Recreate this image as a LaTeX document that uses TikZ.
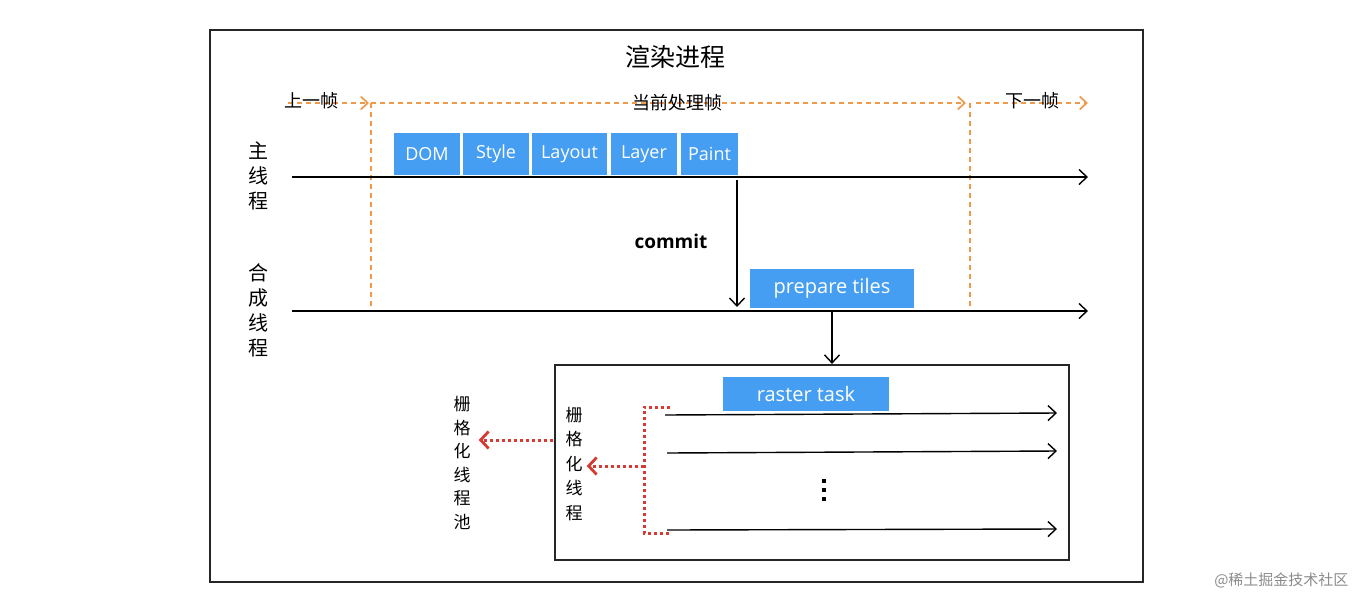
\documentclass[tikz,border=0pt]{standalone}
\usepackage{fontspec}
\newfontfamily\cjk{Noto Sans CJK SC}
\setsansfont{Open Sans}
\usetikzlibrary{arrows.meta}
\definecolor{bluebox}{HTML}{469EF2}
\definecolor{orng}{HTML}{EF9A4A}
\definecolor{redd}{HTML}{D63A32}
\begin{document}
\begin{tikzpicture}[x=1pt,y=-1pt,
  blk/.style={fill=bluebox,text=white,inner sep=0pt,font=\sffamily\fontsize{18}{18}\selectfont},
  axis/.style={line width=1.4pt,-{Straight Barb[length=8pt,width=15pt,line width=1.4pt]}},
  frame/.style={orng,line width=1.7pt,dash pattern=on 5pt off 4pt},
  framearr/.style={frame,-{Straight Barb[length=7pt,width=13pt,line width=1.7pt]}},
  reddot/.style={redd,line width=3pt,dash pattern=on 3pt off 3pt},
  redarr/.style={reddot,-{Straight Barb[length=8pt,width=17pt,line width=2.8pt]}},
  vlab/.style={align=center,inner sep=0pt,font=\cjk\fontsize{20}{25}\selectfont},
  flab/.style={inner sep=0pt,font=\cjk\fontsize{18}{18}\selectfont}]
\useasboundingbox (0,0) rectangle (1358,598);
\fill[white] (0,0) rectangle (1358,598);
% outer frame
\draw[line width=2.2pt,black!85] (210,30) rectangle (1143,582);
\node[font=\cjk\fontsize{25}{25}\selectfont] (title) at (675,57) {渲染进程};
% frame timeline
\coordinate (p0) at (288,103);
\coordinate (p1) at (371,103);
\coordinate (p2) at (970,103);
\coordinate (p3) at (1088,103);
\coordinate (p1b) at (371,311);
\coordinate (p2b) at (970,311);
\draw[framearr] (p0) -- ([xshift=-2pt]p1);
\draw[framearr] (p1) -- ([xshift=-4pt]p2);
\draw[framearr] ([xshift=6pt]p2) -- (p3);
\draw[frame] (p1) -- (p1b);
\draw[frame] (p2) -- (p2b);
\node[flab] (prev) at (311,101) {上一帧};
\node[flab] (cur) at (677,103) {当前处理帧};
\node[flab] (next) at (1032,101) {下一帧};
% thread labels
\node[vlab] (main) at (258,176) {主\\线\\程};
\node[vlab] (comp) at (258,310) {合\\成\\线\\程};
% main thread
\coordinate (m0) at (292,177);
\coordinate (m1) at (1088,177);
\draw[axis] (m0) -- (m1);
\node[blk,minimum width=66pt,minimum height=42pt] (dom) at (427,154) {DOM};
\node[blk,minimum width=66pt,minimum height=42pt] (style) at (496,154) {Style};
\node[blk,minimum width=75pt,minimum height=42pt] (layout) at (569.5,154) {Layout};
\node[blk,minimum width=66pt,minimum height=42pt] (layer) at (644,154) {Layer};
\node[blk,minimum width=57pt,minimum height=42pt] (paint) at (709.5,154) {Paint};
% compositor
\coordinate (c0) at (292,311);
\coordinate (c1) at (1088,311);
\draw[axis] (c0) -- (c1);
\coordinate (k0) at (737,180);
\coordinate (k1) at (737,307);
\draw[axis] (k0) -- (k1);
\node[font=\sffamily\bfseries\fontsize{19}{19}\selectfont] (commit) at (671,241) {commit};
\node[blk,minimum width=164pt,minimum height=39pt,font=\sffamily\fontsize{20}{20}\selectfont] (tiles) at (832,288) {prepare tiles};
% raster box
\node[draw,line width=2.2pt,black!85,minimum width=514pt,minimum height=195pt,inner sep=0pt] (rbox) at (812,462.5) {};
\coordinate (t0) at (832,312);
\draw[axis] (t0) -- (rbox.north -| t0);
\node[blk,minimum width=166pt,minimum height=34pt,font=\sffamily\fontsize{20}{20}\selectfont] (rtask) at (806,394) {raster task};
\coordinate (r1a) at (665,415);
\coordinate (r1b) at (1057,413);
\coordinate (r2a) at (667,453);
\coordinate (r2b) at (1057,451);
\coordinate (r3a) at (667,530);
\coordinate (r3b) at (1057,529);
\draw[axis] (r1a) -- (r1b);
\draw[axis] (r2a) -- (r2b);
\draw[axis] (r3a) -- (r3b);
\coordinate (dots) at (824,490);
\foreach \dy in {-9,0,9} \fill ([xshift=-2.2pt,yshift=-\dy pt-2.2pt]dots) rectangle ++(4.4pt,4.4pt);
% red bracket
\coordinate (b0) at (670,407);
\coordinate (b1) at (644,407);
\coordinate (b2) at (644,533);
\coordinate (b3) at (670,533);
\coordinate (bm) at (644,466);
\draw[reddot] (b0) -- (b1) -- (b2) -- (b3);
\node[vlab,font=\cjk\fontsize{17}{24.5}\selectfont] (rth) at (574,464) {栅\\格\\化\\线\\程};
\draw[redarr] (bm) -- ([xshift=4pt]rth.east |- bm);
\node[vlab,font=\cjk\fontsize{17}{23.5}\selectfont] (pool) at (462,463) {栅\\格\\化\\线\\程\\池};
\coordinate (pa) at (553,440);
\draw[redarr] (pa) -- ([xshift=8pt]pool.east |- pa);
% watermark
\node[font=\cjk\fontsize{15}{15}\selectfont,text=black!45,anchor=east] (wm) at (1352,580) {@稀土掘金技术社区};
\end{tikzpicture}
\end{document}
